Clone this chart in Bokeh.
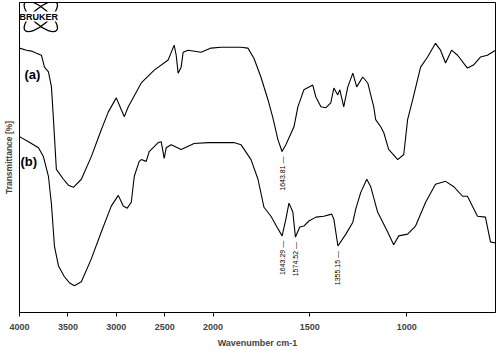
import numpy as np
from bokeh.plotting import figure
from bokeh.models import LinearInterpolator, FixedTicker, ColumnDataSource, Range1d
from bokeh.transform import transform
from bokeh.core.properties import value
from bokeh.embed import file_html
from bokeh.resources import INLINE

# ---- data (wavenumber cm-1, transmittance a.u.) ----
wn_a = [4000, 3928, 3876, 3825, 3773, 3742, 3701, 3670, 3649, 3619, 3546, 3495, 3443,
        3361, 3258, 3155, 3082, 3000, 2948, 2917, 2876, 2742, 2608, 2464, 2402, 2381,
        2361, 2330, 2309, 2258, 2124, 2021, 1959, 1856, 1820, 1789, 1753, 1716, 1691,
        1665, 1643.81, 1624, 1582, 1562, 1531, 1485, 1469, 1443, 1417, 1392, 1376, 1356,
        1345, 1325, 1304, 1278, 1258, 1227, 1201, 1170, 1160, 1134, 1118, 1093, 1046,
        1015, 995, 969, 928, 892, 851, 825, 799, 768, 737, 686, 655, 619, 583, 541]
tr_a = [88.7, 88.0, 87.7, 87.0, 86.3, 82.3, 80.7, 75.7, 64.7, 48.0, 44.7, 42.7, 42.0,
        44.7, 52.3, 61.3, 67.3, 72.0, 68.0, 65.7, 69.0, 77.0, 81.3, 84.7, 89.7, 86.3,
        80.3, 82.3, 87.3, 88.0, 87.3, 88.7, 89.0, 89.0, 88.7, 85.3, 79.0, 71.3, 65.3,
        58.0, 54.0, 56.3, 62.3, 69.0, 74.7, 76.3, 72.3, 69.0, 68.7, 70.3, 75.3, 73.0,
        74.7, 69.0, 75.7, 80.3, 75.7, 79.0, 77.0, 69.0, 64.7, 62.3, 60.3, 54.7, 51.3,
        53.0, 64.7, 71.3, 82.3, 85.7, 90.3, 88.0, 83.7, 88.0, 86.3, 82.0, 83.0, 85.7, 86.3, 88.0]

wn_b = [4000, 3907, 3804, 3753, 3701, 3670, 3639, 3598, 3536, 3485, 3433, 3361, 3258,
        3155, 3052, 2979, 2928, 2887, 2845, 2814, 2763, 2742, 2691, 2660, 2567, 2536,
        2505, 2484, 2433, 2330, 2196, 2052, 1892, 1856, 1804, 1768, 1737, 1701, 1670,
        1643.29, 1624, 1608, 1588, 1574.52, 1552, 1531, 1505, 1469, 1428, 1387, 1376,
        1355.15, 1314, 1278, 1263, 1237, 1206, 1186, 1150, 1098, 1067, 1041, 995, 954,
        902, 851, 799, 758, 711, 686, 634, 593, 567, 541]
tr_b = [59.0, 57.3, 55.3, 52.3, 45.7, 36.3, 22.3, 15.7, 12.0, 10.0, 9.0, 10.3, 18.0,
        27.0, 35.7, 39.3, 35.7, 35.0, 37.0, 45.7, 50.7, 51.3, 50.7, 54.0, 57.0, 57.3,
        51.7, 55.3, 56.3, 54.7, 56.7, 57.0, 57.0, 56.3, 51.3, 44.7, 35.3, 32.3, 28.7,
        25.7, 31.3, 36.7, 33.7, 25.3, 28.7, 29.0, 30.7, 32.0, 32.3, 33.0, 31.3,
        22.3, 26.3, 30.3, 34.7, 40.3, 44.7, 42.3, 33.7, 27.0, 22.7, 25.7, 26.3, 29.0,
        37.0, 43.0, 44.0, 42.3, 39.0, 39.0, 32.3, 32.0, 23.7, 23.3]

peak_wn = [1643.81, 1643.29, 1574.52, 1355.15]
peak_tr = [54.0, 25.7, 25.3, 22.3]
peak_lbl = ["1643.81", "1643.29", "1574.52", "1355.15"]

tick_wn = [4000, 3500, 3000, 2500, 2000, 1500, 1000]
tick_lbl = ["4000", "3500", "3000", "2500", "2000", "1500", "1000"]

trace_lbl = ["(a)", "(b)"]
trace_lbl_wn = [3948, 3990]
trace_lbl_tr = [79.7, 50.7]

# ---- OPUS-style split axis: 4000-2000 compressed x2 ----
warp_w = [541, 2000, 4000]
warp_t = [2000 + 2 * (2000 - 541), 2000, 0]
warp = LinearInterpolator(x=warp_w, y=warp_t, clip=False)

p = figure(width=500, height=350, output_backend="svg", toolbar_location=None,
           x_range=Range1d(0, warp_t[0]), y_range=Range1d(0, 104),
           min_border_left=18, min_border_right=5, min_border_top=2, min_border_bottom=36)
p.background_fill_color = "white"
p.border_fill_color = "white"
p.grid.visible = False
p.outline_line_color = "black"
p.outline_line_width = 1

src_a = ColumnDataSource(dict(w=wn_a, v=tr_a))
src_b = ColumnDataSource(dict(w=wn_b, v=tr_b))
p.line(x=transform("w", warp), y="v", source=src_a, line_color="black", line_width=1.1)
p.line(x=transform("w", warp), y="v", source=src_b, line_color="black", line_width=1.1)

# peak annotations
src_pk = ColumnDataSource(dict(w=peak_wn, v=peak_tr, t=[s + "  \u2014" for s in peak_lbl]))
p.text(x=transform("w", warp), y="v", text="t", source=src_pk, angle=np.pi / 2,
       text_align="right", text_baseline="middle", y_offset=3,
       text_font=value("Liberation Sans"), text_font_size="7px", text_color="black")

# trace labels
src_tl = ColumnDataSource(dict(w=trace_lbl_wn, v=trace_lbl_tr, t=trace_lbl))
p.text(x=transform("w", warp), y="v", text="t", source=src_tl, text_align="left",
       text_baseline="middle", text_font=value("Liberation Sans"), text_font_size="13px",
       text_font_style="bold", text_color="black")

# Bruker logo
logo_src = ColumnDataSource(dict(w=[3780, 3780], v=[99.3, 99.3], a=[0.72, -0.72]))
p.ellipse(x=transform("w", warp), y="v", width=42, height=16, angle="a", source=logo_src,
          width_units="screen", height_units="screen", fill_color=None,
          line_color="black", line_width=1.3)
logo_txt = ColumnDataSource(dict(w=[3800], v=[99.3], t=["BRUKER"]))
p.text(x=transform("w", warp), y="v", text="t", source=logo_txt, text_align="center",
       text_baseline="middle", text_font=value("Liberation Sans"), text_font_size="9px",
       text_font_style="bold", text_color="black", background_fill_color="white")

# axes
tick_t = [float(v) for v in np.interp(tick_wn, warp_w, warp_t)]
xa = p.xaxis[0]
xa.ticker = FixedTicker(ticks=tick_t)
xa.major_label_overrides = {t: l for t, l in zip(tick_t, tick_lbl)}
xa.minor_tick_line_color = None
xa.major_tick_out = 4
xa.major_tick_in = 0
xa.major_label_standoff = 7
xa.major_label_text_font = "Liberation Sans"
xa.major_label_text_font_style = "bold"
xa.major_label_text_font_size = "9px"
xa.axis_label = "Wavenumber cm-1"
xa.axis_label_text_font = "Liberation Sans"
xa.axis_label_text_font_style = "bold"
xa.axis_label_text_font_size = "9px"
xa.axis_label_standoff = 5

ya = p.yaxis[0]
ya.ticker = FixedTicker(ticks=[])
ya.major_tick_line_color = None
ya.minor_tick_line_color = None
ya.major_label_text_font_size = "0px"
ya.major_label_standoff = 0
ya.axis_label = "Transmittance [%]"
ya.axis_label_text_font = "Liberation Sans"
ya.axis_label_text_font_style = "bold"
ya.axis_label_text_font_size = "8.5px"
ya.axis_label_standoff = 6

open("out.html", "w").write(file_html(p, INLINE))
